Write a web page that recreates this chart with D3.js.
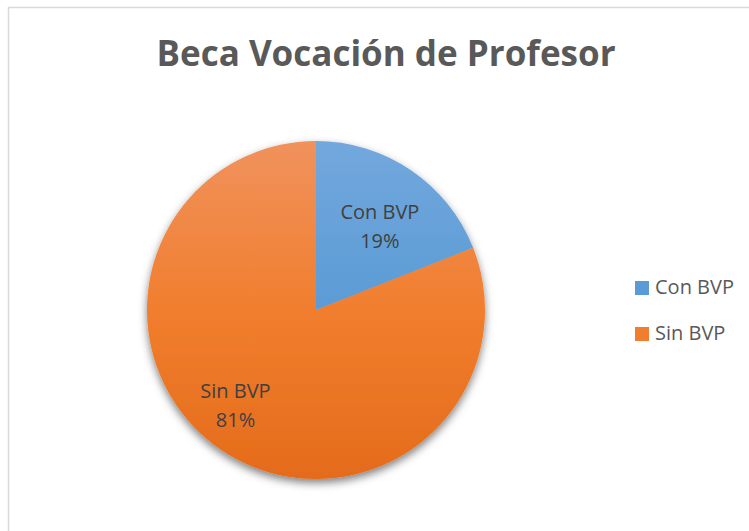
<!DOCTYPE html>
<html>
<head>
<meta charset="utf-8">
<script src="https://cdn.jsdelivr.net/npm/d3@7"></script>
<style>
  body { margin: 0; background: #fff; }
  text { font-family: "Open Sans", sans-serif; }
</style>
</head>
<body>
<script>
const categories = ["Con BVP", "Sin BVP"];
const values = [19, 81];
const labels = ["19%", "81%"];
const title = "Beca Vocación de Profesor";

const width = 749, height = 531,
    cx = 316, cy = 310, radius = 169;

const svg = d3.select("body").append("svg")
    .attr("width", width)
    .attr("height", height);

// chart frame (only top/left visible)
svg.append("rect")
    .attr("x", 8.5).attr("y", 7.5)
    .attr("width", 760).attr("height", 540)
    .attr("fill", "#fff")
    .attr("stroke", "#d9d9d9")
    .attr("stroke-width", 1.5);

const defs = svg.append("defs");

const shades = [
  ["#72a8dd", "#5b9bd5", "#4785c5"],
  ["#f0925d", "#f17e2e", "#e46b1a"]
];
shades.forEach(function(s, i) {
  const g = defs.append("linearGradient")
      .attr("id", "grad" + i)
      .attr("gradientUnits", "userSpaceOnUse")
      .attr("x1", 0).attr("y1", -radius)
      .attr("x2", 0).attr("y2", radius);
  g.append("stop").attr("offset", "0%").attr("stop-color", s[0]);
  g.append("stop").attr("offset", "50%").attr("stop-color", s[1]);
  g.append("stop").attr("offset", "100%").attr("stop-color", s[2]);
});

const filter = defs.append("filter")
    .attr("id", "shadow")
    .attr("x", "-20%").attr("y", "-20%")
    .attr("width", "140%").attr("height", "140%");
filter.append("feDropShadow")
    .attr("dx", 0).attr("dy", 4)
    .attr("stdDeviation", 4)
    .attr("flood-color", "#000")
    .attr("flood-opacity", 0.5);

svg.append("text")
    .attr("x", 386)
    .attr("y", 66)
    .attr("text-anchor", "middle")
    .attr("font-size", 35)
    .attr("font-weight", "bold")
    .attr("fill", "#595959")
    .text(title);

const pie = d3.pie().sort(null).value(function(d) { return d; });
const arc = d3.arc().innerRadius(0).outerRadius(radius);

const arcs = pie(values);

const g = svg.append("g")
    .attr("transform", "translate(" + cx + "," + cy + ")");

g.append("g")
    .attr("filter", "url(#shadow)")
    .selectAll("path")
    .data(arcs)
    .enter().append("path")
    .attr("d", arc)
    .attr("fill", function(d, i) { return "url(#grad" + i + ")"; });

// label positions (Excel best-fit)
const labelRadius = [106, 124];
const labelAngleShift = [0.05, 0.11];

const lab = g.selectAll(".lab")
    .data(arcs)
    .enter().append("text")
    .attr("class", "lab")
    .attr("text-anchor", "middle")
    .attr("font-size", 20)
    .attr("fill", "#404040")
    .attr("transform", function(d, i) {
      const a = (d.startAngle + d.endAngle) / 2 + labelAngleShift[i];
      const r = labelRadius[i];
      return "translate(" + (r * Math.sin(a)) + "," + (-r * Math.cos(a)) + ")";
    });
lab.append("tspan").attr("x", 0).attr("y", -6)
    .text(function(d, i) { return categories[i]; });
lab.append("tspan").attr("x", 0).attr("y", 23)
    .text(function(d, i) { return labels[i]; });

// legend
const legend = svg.append("g")
    .attr("transform", "translate(635,281)");
const item = legend.selectAll("g")
    .data(categories)
    .enter().append("g")
    .attr("transform", function(d, i) { return "translate(0," + (i * 46) + ")"; });
item.append("rect")
    .attr("width", 14).attr("height", 14)
    .attr("fill", function(d, i) { return shades[i][1]; });
item.append("text")
    .attr("x", 20).attr("y", 13)
    .attr("font-size", 20)
    .attr("fill", "#595959")
    .text(function(d) { return d; });
</script>
</body>
</html>
